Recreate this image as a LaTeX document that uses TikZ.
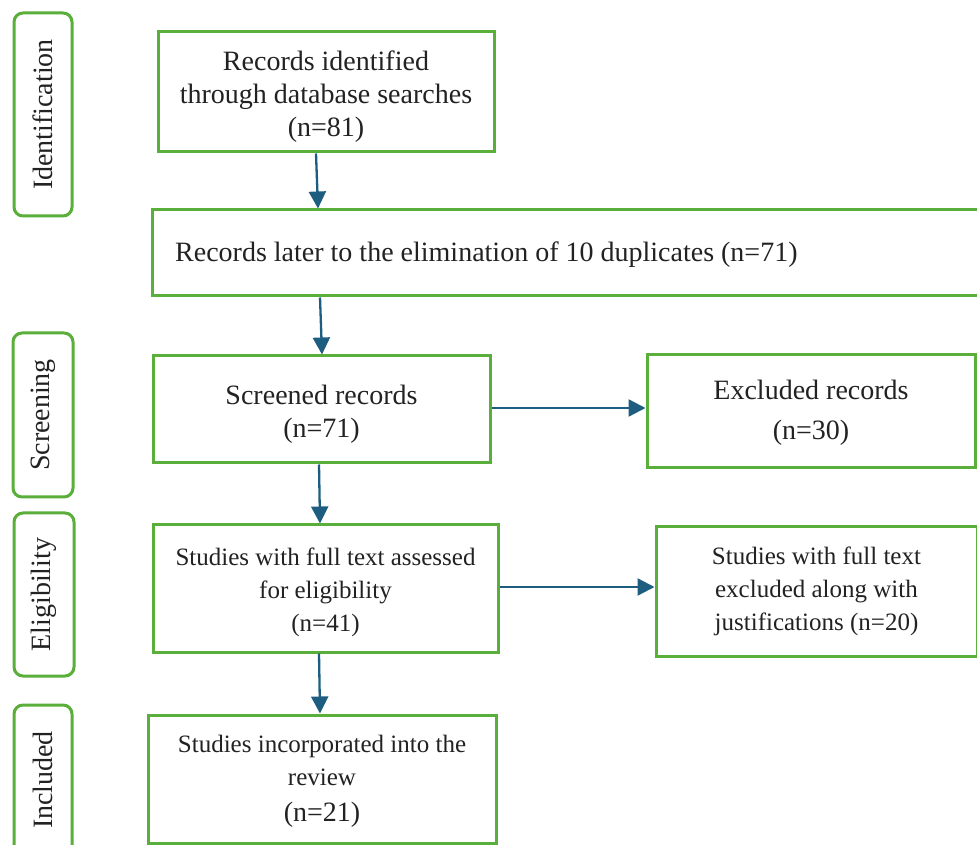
\documentclass[tikz,border=0pt]{standalone}
\usepackage{fontspec}
\setmainfont{Liberation Serif}
\usetikzlibrary{arrows.meta,calc}
\definecolor{boxgreen}{HTML}{5AAE3A}
\definecolor{arrowblue}{HTML}{1D5E80}
\definecolor{txt}{HTML}{222222}
\tikzset{
  x=1pt,y=1pt,
  stagebox/.style={draw=boxgreen,line width=3pt,rounded corners=9pt,inner sep=0pt,text=txt},
  flowbox/.style={draw=boxgreen,line width=3pt,inner sep=0pt},
  boxtext/.style={inner sep=0pt,align=center,text=txt},
  bigtext/.style={font=\fontsize{28}{33}\selectfont},
  smalltext/.style={font=\fontsize{25}{33}\selectfont},
  flowarrow/.style={draw=arrowblue,line width=2.3pt,-{Triangle[length=17pt,width=17pt]}},
}
\begin{document}
\begin{tikzpicture}
\clip (0,0) rectangle (977,844);
\fill[white] (0,0) rectangle (977,844);
% stage labels
\node[stagebox,minimum width=58,minimum height=203] (sid) at (43,{844-114.5}) {};
\node[rotate=90,bigtext,text=txt] (sidt) at (sid.center) {Identification};
\node[stagebox,minimum width=60,minimum height=164] (ssc) at (43,{844-415}) {};
\node[rotate=90,bigtext,text=txt] (ssct) at (ssc.center) {Screening};
\node[stagebox,minimum width=60,minimum height=163] (sel) at (44,{844-594.5}) {};
\node[rotate=90,bigtext,text=txt] (selt) at (sel.center) {Eligibility};
\node[stagebox,minimum width=58,minimum height=170] (sin) at (43,{844-790}) {};
\node[rotate=90,bigtext,text=txt] (sint) at (43,{844-780}) {Included};
% flow boxes
\node[flowbox,minimum width=336,minimum height=120] (b1) at (326,{844-92}) {};
\node[boxtext,bigtext] (b1t) at ([yshift=-5]b1.center) {Records identified\\through database searches\\(n=81)};
\node[flowbox,minimum width=850,minimum height=86] (b2) at (577,{844-253}) {};
\node[bigtext,anchor=west,text=txt,inner sep=0pt] (b2t) at (175,{844-255}) {Records later to the elimination of 10 duplicates (n=71)};
\node[flowbox,minimum width=337,minimum height=107] (b3) at (321.5,{844-409.5}) {};
\node[boxtext,bigtext] (b3t) at ([yshift=-5]b3.center) {Screened records\\(n=71)};
\node[flowbox,minimum width=328,minimum height=113] (b4) at (811,{844-411.5}) {};
\node[boxtext,bigtext] (b4t) at ([yshift=-1]b4.center) {Excluded records\\[7pt](n=30)};
\node[flowbox,minimum width=345,minimum height=127] (b5) at (325.5,{844-588.5}) {};
\node[boxtext,smalltext] (b5t) at ([yshift=-4]b5.center) {Studies with full text assessed\\for eligibility\\(n=41)};
\node[flowbox,minimum width=321,minimum height=129] (b6) at (816.5,{844-591.5}) {};
\node[boxtext,smalltext] (b6t) at (b6.center) {Studies with full text\\excluded along with\\justifications (n=20)};
\node[flowbox,minimum width=348,minimum height=128] (b7) at (322,{844-779}) {};
\node[boxtext,smalltext] (b7t) at ([yshift=-2]b7.center) {Studies incorporated into the\\review\\[3pt]\fontsize{28}{35}\selectfont(n=21)};
% arrows
\draw[flowarrow] ([xshift=-10pt]b1.south) -- ([xshift=-8pt]b1.south |- b2.north);
\draw[flowarrow] ([xshift=-1.5pt]b3.north |- b2.south) -- ([xshift=0.5pt]b3.north);
\draw[flowarrow] ([xshift=-2.5pt]b3.south) -- ([xshift=-1.5pt]b3.south |- b5.north);
\draw[flowarrow] ([xshift=-6.5pt]b5.south) -- ([xshift=-5.5pt]b5.south |- b7.north);
\draw[flowarrow] (b3.east |- 0,{844-408}) -- (b4.west |- 0,{844-408});
\draw[flowarrow] (b5.east |- 0,{844-587}) -- (b6.west |- 0,{844-587});
\end{tikzpicture}
\end{document}
